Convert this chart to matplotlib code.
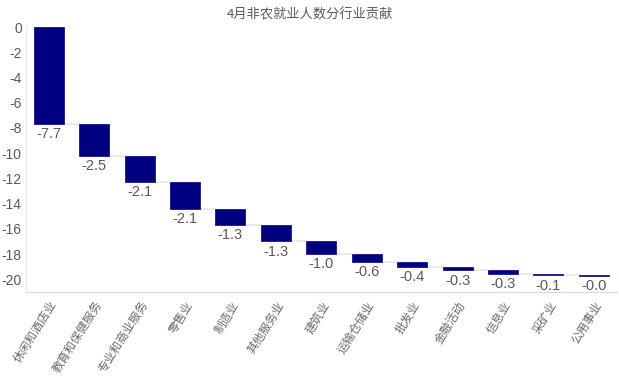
import matplotlib
matplotlib.use("Agg")
import matplotlib.pyplot as plt
import numpy as np

plt.rcParams['font.family'] = ['Liberation Sans', 'Noto Sans CJK SC', 'DejaVu Sans']

# data
categories = ["休闲和酒店业", "教育和保健服务", "专业和商业服务", "零售业", "制造业",
              "其他服务业", "建筑业", "运输仓储业", "批发业", "金融活动",
              "信息业", "采矿业", "公用事业"]
values = [-7.7, -2.5, -2.1, -2.1, -1.3, -1.3, -1.0, -0.6, -0.4, -0.3, -0.3, -0.1, -0.04]
yticks = [0, -2, -4, -6, -8, -10, -12, -14, -16, -18, -20]

navy = "#000080"
grey = "#595959"

vals = np.array(values)
ends = np.cumsum(vals)
starts = ends - vals
x = np.arange(len(categories))

fig = plt.figure(figsize=(6.19, 3.82), dpi=100)
ax = fig.add_axes([0.042, 0.236, 0.954, 0.693])

ax.bar(x, vals, bottom=starts, width=0.66, color=navy, edgecolor=navy, linewidth=0.5, zorder=3)

# connector lines
for i in range(len(x) - 1):
    ax.plot([x[i] + 0.33, x[i + 1] - 0.33], [ends[i], ends[i]], color="#e6e6e6", lw=1.2, zorder=2)

for xi, e, v in zip(x, ends, vals):
    ax.text(xi, e - 0.25, "{0:.1f}".format(v), ha="center", va="top", fontsize=10.5, color=grey)

ax.set_xlim(-0.5, 12.5)
ax.set_ylim(-21, 0)
ax.set_yticks(yticks)
ax.set_yticklabels([str(t) for t in yticks], fontsize=10, color=grey)
ax.tick_params(axis="y", length=0, pad=3)
ax.tick_params(axis="x", length=0, pad=5)
ax.set_xticks(x)
ax.set_xticklabels(categories, rotation=58, ha="right", va="top", rotation_mode="anchor",
                   fontsize=8.5, color="#6a6a6a", family=['Noto Sans CJK SC', 'DejaVu Sans'])

for s in ["top", "right"]:
    ax.spines[s].set_visible(False)
ax.spines["left"].set_color("#e8e8e8")
ax.spines["bottom"].set_color("#d9d9d9")

fig.text(0.5, 0.962, "4月非农就业人数分行业贡献", ha="center", va="center", fontsize=9.5,
         color=grey, family=['Noto Sans CJK SC', 'DejaVu Sans'])

fig.savefig("out.png", dpi=100)
